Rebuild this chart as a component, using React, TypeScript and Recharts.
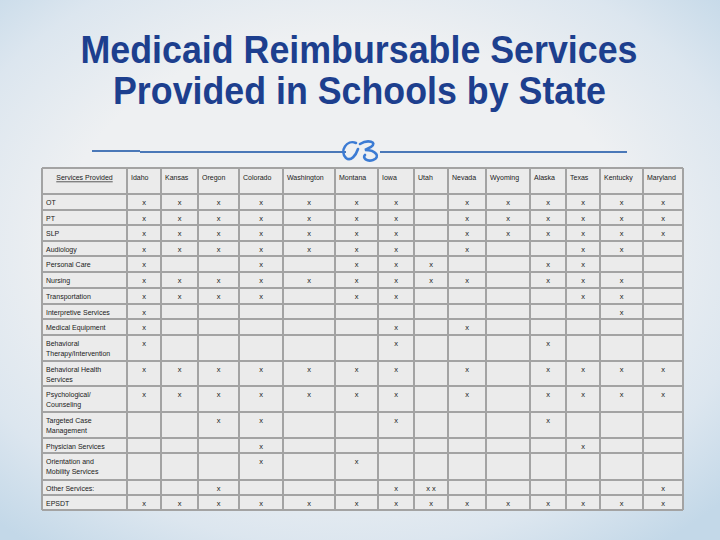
import React from "react";
import { ScatterChart, Scatter, XAxis, YAxis, CartesianGrid, ReferenceLine } from "recharts";

const STATES = [
  "Idaho", "Kansas", "Oregon", "Colorado", "Washington", "Montana", "Iowa",
  "Utah", "Nevada", "Wyoming", "Alaska", "Texas", "Kentucky", "Maryland",
];

// each service label, split into its printed lines
const SERVICES = [
  ["OT"],
  ["PT"],
  ["SLP"],
  ["Audiology"],
  ["Personal Care"],
  ["Nursing"],
  ["Transportation"],
  ["Interpretive Services"],
  ["Medical Equipment"],
  ["Behavioral", "Therapy/Intervention"],
  ["Behavioral Health", "Services"],
  ["Psychological/", "Counseling"],
  ["Targeted Case", "Management"],
  ["Physician Services"],
  ["Orientation and", "Mobility Services"],
  ["Other Services:"],
  ["EPSDT"],
];

// one char per state: x = provided, - = blank, 2 = "x x"
const MARKS = [
  "xxxxxxx-xxxxxx",
  "xxxxxxx-xxxxxx",
  "xxxxxxx-xxxxxx",
  "xxxxxxx-x--xx-",
  "x--x-xxx--xx--",
  "xxxxxxxxx-xxx-",
  "xxxx-xx----xx-",
  "x-----------x-",
  "x-----x-x-----",
  "x-----x---x---",
  "xxxxxxx-x-xxxx",
  "xxxxxxx-x-xxxx",
  "--xx--x---x---",
  "---x-------x--",
  "---x-x--------",
  "--x---x2-----x",
  "xxxxxxxxxxxxxx",
];

const TITLE = ["Medicaid Reimbursable Services", "Provided in Schools by State"];

// layout (px)
const COL_W = [85, 34, 37, 41, 44, 52, 43, 36, 34, 38, 44, 36, 34, 43, 40];
const HEADER_H = 26;
const ROW_H = [16, 15, 16, 15, 16, 16, 16, 15, 16, 26, 25, 26, 26, 15, 27, 15, 15];

const FONT = "'Liberation Sans', Arial, sans-serif";

const colEdges = COL_W.reduce((acc, w) => [...acc, acc[acc.length - 1] + w], [0]);
const rowEdges = ROW_H.reduce((acc, h) => [...acc, acc[acc.length - 1] + h], [0, HEADER_H]);
const TOTAL_W = colEdges[colEdges.length - 1];
const TOTAL_H = rowEdges[rowEdges.length - 1];

const markData: { x: number; y: number; mark: string }[] = [];
MARKS.forEach((row, r) => {
  row.split("").forEach((c, s) => {
    if (c === "-") return;
    markData.push({
      x: (colEdges[s + 1] + colEdges[s + 2]) / 2,
      y: rowEdges[r + 1] + 8,
      mark: c === "2" ? "x x" : "x",
    });
  });
});

const headerData = [
  { x: COL_W[0] / 2, y: 9, label: "Services Provided", center: true },
  ...STATES.map((s, i) => ({ x: colEdges[i + 1] + 4, y: 9, label: s, center: false })),
];

const rowLabelData = SERVICES.map((lines, r) => ({ x: 4, y: rowEdges[r + 1] + 8, lines }));

const XMark = (props: any) => (
  <text x={props.cx} y={props.cy} textAnchor="middle" dominantBaseline="central"
    fontSize={7.5} fontFamily={FONT} fill="#1a1a1a">
    {props.payload.mark}
  </text>
);

const HeaderText = (props: any) => (
  <text x={props.cx} y={props.cy} textAnchor={props.payload.center ? "middle" : "start"}
    dominantBaseline="central" fontSize={7} fontFamily={FONT} fill="#1a1a1a"
    style={props.payload.center ? { textDecoration: "underline" } : undefined}>
    {props.payload.label}
  </text>
);

const RowLabel = (props: any) => (
  <g>
    {props.payload.lines.map((l: string, i: number) => (
      <text key={i} x={props.cx} y={props.cy + i * 10} dominantBaseline="central"
        fontSize={7} fontFamily={FONT} fill="#1a1a1a">
        {l}
      </text>
    ))}
  </g>
);

export default function App() {
  return (
    <div
      style={{
        position: "absolute",
        left: 0,
        top: 0,
        width: 720,
        height: 540,
        overflow: "hidden",
        background:
          "radial-gradient(ellipse 72% 70% at 48% 45%, #eef0f2 55%, #dce6ef 80%, #c3d8e8 100%)",
      }}
    >
      <svg width={720} height={170} style={{ position: "absolute", left: 0, top: 0 }}>
        <text x={359} y={63} textAnchor="middle" fontSize={39} fontWeight="bold"
          fontFamily={FONT} fill="#1d3f8e" textLength={557} lengthAdjust="spacingAndGlyphs">
          {TITLE[0]}
        </text>
        <text x={359.5} y={104} textAnchor="middle" fontSize={39} fontWeight="bold"
          fontFamily={FONT} fill="#1d3f8e" textLength={493} lengthAdjust="spacingAndGlyphs">
          {TITLE[1]}
        </text>
        <line x1={92} y1={151} x2={140} y2={151} stroke="#4a78b8" strokeWidth={2} />
        <line x1={140} y1={152} x2={346} y2={152} stroke="#4a78b8" strokeWidth={2} />
        <line x1={380} y1={152} x2={627} y2={152} stroke="#4a78b8" strokeWidth={2} />
        <g fill="none" stroke="#3b7bd4" strokeWidth={2.6} strokeLinecap="round">
          <path d="M356 143 C347 139, 339 151, 346 158 C351 162, 356 155, 358 149" />
          <path d="M360 144 C368 139, 378 142, 371 147 L365 150 C376 150, 381 157, 373 160 C367 162, 362 158, 365 155" />
        </g>
      </svg>
      <div style={{ position: "absolute", left: 0, top: 0 }}>
        <ScatterChart width={720} height={540} margin={{ top: 168, left: 42, right: 720 - 42 - TOTAL_W, bottom: 540 - 168 - TOTAL_H }}>
          <CartesianGrid horizontal={false} vertical={false} fill="#ebebeb" fillOpacity={1} />
          <XAxis type="number" dataKey="x" domain={[0, TOTAL_W]} hide />
          <YAxis type="number" dataKey="y" domain={[0, TOTAL_H]} reversed hide />
          {colEdges.map((e) => (
            <ReferenceLine key={`c${e}`} x={e} stroke="#a3a3a3" strokeWidth={2} />
          ))}
          {rowEdges.map((e) => (
            <ReferenceLine key={`r${e}`} y={e} stroke="#a3a3a3" strokeWidth={2} />
          ))}
          <Scatter data={headerData} shape={HeaderText} isAnimationActive={false} />
          <Scatter data={rowLabelData} shape={RowLabel} isAnimationActive={false} />
          <Scatter data={markData} shape={XMark} isAnimationActive={false} />
        </ScatterChart>
      </div>
    </div>
  );
}
